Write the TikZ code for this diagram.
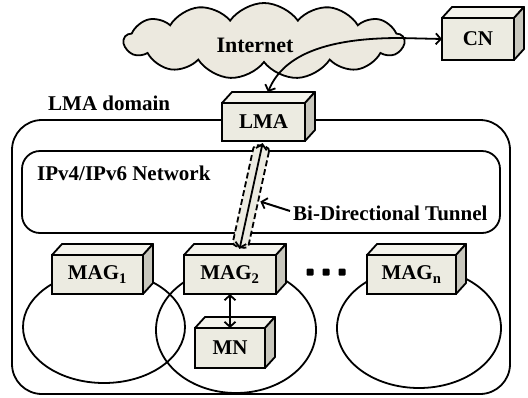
\documentclass[tikz,border=0pt]{standalone}
\usepackage{fontspec}
\setmainfont{Liberation Serif}
\usetikzlibrary{calc,arrows.meta,shapes.symbols}
\definecolor{boxfront}{HTML}{ECEBE1}
\definecolor{boxtop}{HTML}{F4F3EC}
\definecolor{boxside}{HTML}{C8C7BD}
\definecolor{cloudfill}{HTML}{ECE9DF}
\newcommand\cubebox[6]{%
  \node[cubefront, minimum width=#4pt, minimum height=#5pt] (#1) at (#2,#3) {#6};
  \filldraw[cubetop] (#1.north west) -- ++(10,-11) -- ($(#1.north east)+(10,-11)$) -- (#1.north east) -- cycle;
  \filldraw[cubeside] (#1.north east) -- ++(10,-11) -- ($(#1.south east)+(10,-11)$) -- (#1.south east) -- cycle;
}
\tikzset{
  cubefront/.style={draw, fill=boxfront, line width=1.8pt, inner sep=0pt, outer sep=0pt,
    font=\fontsize{21}{25}\selectfont\bfseries},
  cubetop/.style={fill=boxtop, draw, line width=1.8pt, line join=round},
  cubeside/.style={fill=boxside, draw, line width=1.8pt, line join=round},
  region/.style={draw, line width=1.8pt},
  lbl/.style={font=\fontsize{21}{25}\selectfont\bfseries, inner sep=0pt},
  barb/.tip={Straight Barb[length=5pt,width=11pt,line width=1.8pt]},
  conn/.style={line width=1.8pt, barb-barb},
  pointer/.style={line width=2pt, -barb},
}
\begin{document}
\begin{tikzpicture}[x=1pt,y=-1pt]
\useasboundingbox (0,0) rectangle (528,397);
% regions
\draw[region, rounded corners=30pt] (12,120) rectangle (510,394);
\draw[region, rounded corners=18pt] (22,151) rectangle (500,233);
\node[lbl, anchor=west] (domlbl) at (48,103) {LMA domain};
\node[lbl, anchor=west] (netlbl) at (37,173) {IPv4/IPv6 Network};
% cells
\draw[region] (104,327) ellipse [x radius=81, y radius=56];
\draw[region] (236,330) ellipse [x radius=80, y radius=63];
\draw[region] (419,328) ellipse [x radius=82, y radius=60];
% cloud
\node[cloud, cloud puffs=13, cloud puff arc=110, aspect=3.6, draw, fill=cloudfill,
  line width=1.8pt, minimum width=280pt, minimum height=76pt, inner sep=0pt] (internet) at (264,41) {};
\node[lbl, font=\fontsize{22}{26}\selectfont\bfseries] (intlbl) at (255,45) {Internet};
% boxes
\cubebox{cn}{478}{39}{72}{42}{CN}
\cubebox{lma}{263.5}{122}{83}{38}{LMA}
\cubebox{mag1}{97.5}{274.5}{91}{39}{MAG\textsubscript{1}}
\cubebox{mag2}{230}{274.5}{92}{39}{MAG\textsubscript{2}}
\cubebox{magn}{411.5}{274.5}{89}{39}{MAG\textsubscript{n}}
\cubebox{mn}{230}{348}{70}{40}{MN}
% dots
\foreach \dx in {310,326,342} \fill[rounded corners=1pt] (\dx-3.5,268.5) rectangle ++(7,7);
% tunnel
\coordinate (ttop) at ($(lma.south)+(-1.5,5)$);
\coordinate (tbot) at ($(mag2.north)+(10,-8)$);
\draw[fill=boxfront, line width=1.8pt, rounded corners=4pt, dash pattern=on 6pt off 3pt]
  ($(ttop)!8pt!90:(tbot)$) -- ($(tbot)!8pt!-90:(ttop)$) -- ($(tbot)!8pt!90:(ttop)$) -- ($(ttop)!8pt!-90:(tbot)$) -- cycle;
\draw[conn] ($(ttop)!-3pt!(tbot)$) -- ($(tbot)!-2pt!(ttop)$);
\node[lbl, anchor=west] (bdt) at (293,213) {Bi-Directional Tunnel};
\coordinate (tside) at ($(ttop)!0.53!(tbot)+(10,2)$);
\draw[pointer] ($(bdt.west)+(-3,-2)$) -- (tside);
% CN connection
\coordinate (lmatop) at (268,92);
\coordinate (cnbend) at (400,38);
\draw[conn] (lmatop) .. controls (282,58) and (320,38) .. (cnbend) -- (cn.west);
\draw[conn] (mag2.south) -- (mn.north);
\end{tikzpicture}
\end{document}
